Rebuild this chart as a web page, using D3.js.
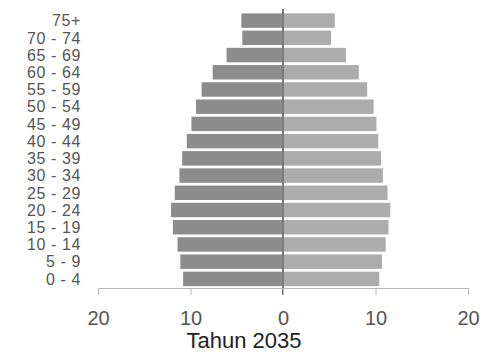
<!DOCTYPE html>
<html><head><meta charset="utf-8">
<script src="https://cdn.jsdelivr.net/npm/d3@7"></script>
<style>body{margin:0;background:#fff}svg{display:block}</style>
</head><body>
<svg id="c" width="482" height="362"></svg>
<script>
const ageGroups = ["75+","70 - 74","65 - 69","60 - 64","55 - 59","50 - 54","45 - 49","40 - 44","35 - 39","30 - 34","25 - 29","20 - 24","15 - 19","10 - 14","5 - 9","0 - 4"];
const leftValues  = [4.5,4.4,6.1,7.6,8.8,9.4,9.9,10.4,10.9,11.2,11.7,12.1,11.9,11.4,11.1,10.8];
const rightValues = [5.6,5.2,6.8,8.2,9.1,9.8,10.1,10.3,10.6,10.8,11.3,11.6,11.4,11.1,10.7,10.4];
const tickValues = [-20,-10,0,10,20];
const tickLabels = ["20","10","0","10","20"];
const title = "Tahun 2035";

const svg = d3.select("#c");
const x = d3.scaleLinear().domain([-20,20]).range([98,468]);
const y = d3.scaleBand().domain(ageGroups).range([12,287.5]).paddingInner(0.16).paddingOuter(0.08);

svg.append("g").selectAll("rect.l").data(ageGroups).join("rect")
  .attr("x",(d,i)=>x(-leftValues[i])).attr("y",d=>y(d))
  .attr("width",(d,i)=>x(0)-x(-leftValues[i])).attr("height",y.bandwidth())
  .attr("fill","#8c8c8c");
svg.append("g").selectAll("rect.r").data(ageGroups).join("rect")
  .attr("x",x(0)).attr("y",d=>y(d))
  .attr("width",(d,i)=>x(rightValues[i])-x(0)).attr("height",y.bandwidth())
  .attr("fill","#acacac");

// center line
svg.append("line").attr("x1",x(0)).attr("x2",x(0)).attr("y1",9).attr("y2",295)
  .attr("stroke","#7a7a7a").attr("stroke-width",2);

// x axis
const ax = svg.append("g").attr("transform","translate(0,288)")
  .call(d3.axisBottom(x).tickValues(tickValues).tickFormat((d,i)=>tickLabels[i]).tickSize(7).tickSizeOuter(0).tickPadding(16));
ax.select(".domain").attr("stroke","#b8b8b8");
ax.selectAll(".tick line").attr("stroke","#b8b8b8");
ax.selectAll(".tick text").attr("fill","#555").attr("font-family","Liberation Sans, Arial, sans-serif").attr("font-size","20px");

// y labels
svg.append("g").selectAll("text").data(ageGroups).join("text")
  .attr("x",81).attr("y",d=>y(d)+y.bandwidth()/2).attr("dy","0.36em")
  .attr("text-anchor","end").attr("fill","#555")
  .attr("font-family","Liberation Sans, Arial, sans-serif").attr("font-size","16px")
  .attr("letter-spacing","0.6px")
  .text(d=>d);

svg.append("text").attr("x",244).attr("y",340).attr("dy","0.36em").attr("text-anchor","middle")
  .attr("fill","#222").attr("font-family","Liberation Sans, Arial, sans-serif").attr("font-size","22px")
  .text(title);
</script>
</body></html>
